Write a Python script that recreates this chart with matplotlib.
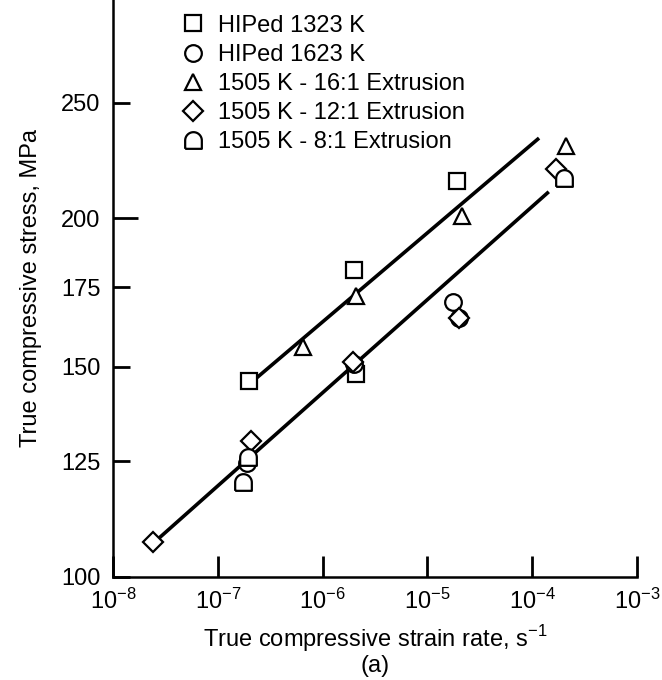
import numpy as np
import matplotlib
matplotlib.use("Agg")
import matplotlib.pyplot as plt
from matplotlib.path import Path

plt.rcParams['font.family'] = ['Liberation Sans', 'DejaVu Sans']
plt.rcParams['mathtext.fontset'] = 'custom'
plt.rcParams['mathtext.rm'] = 'Liberation Sans'

# ---- data ----
labels = ["HIPed 1323 K", "HIPed 1623 K", "1505 K - 16:1 Extrusion",
          "1505 K - 12:1 Extrusion", "1505 K - 8:1 Extrusion"]

sq_x = [2.0e-7, 2.0e-6, 2.1e-6, 1.9e-5]
sq_y = [146, 181, 148, 215]

circ_x = [1.9e-7, 2.0e-6, 1.75e-5, 2.0e-5]
circ_y = [124.5, 151, 170, 165]

tri_x = [6.5e-7, 2.1e-6, 2.15e-5, 2.1e-4]
tri_y = [156, 172, 201, 230]

dia_x = [2.4e-8, 2.05e-7, 1.95e-6, 2.0e-5, 1.7e-4]
dia_y = [107, 130, 151.5, 165, 220]

house_x = [1.75e-7, 1.95e-7, 2.0e-4]
house_y = [120, 126, 216]

fit_upper_x = [2.37e-7, 1.13e-4]
fit_upper_y = [147, 233]
fit_lower_x = [2.6e-8, 1.4e-4]
fit_lower_y = [107.3, 210]

yticks = [100, 125, 150, 175, 200, 250]
xticks = [1e-8, 1e-7, 1e-6, 1e-5, 1e-4, 1e-3]
xticklabels = [r'$\mathregular{10^{-8}}$', r'$\mathregular{10^{-7}}$', r'$\mathregular{10^{-6}}$',
               r'$\mathregular{10^{-5}}$', r'$\mathregular{10^{-4}}$', r'$\mathregular{10^{-3}}$']

# arch-shaped marker (flat bottom, round top)
th = np.linspace(0, np.pi, 30)
verts = [(-1, -1), (1, -1), (1, 0)] + [(np.cos(t), np.sin(t)) for t in th] + [(-1, 0), (-1, -1)]
house_marker = Path(verts)

fig = plt.figure(figsize=(6.62, 6.80), dpi=100)
ax = fig.add_axes([0.171, 0.152, 0.791, 0.848])

ax.plot(fit_upper_x, fit_upper_y, color='black', lw=2.6, zorder=2)
ax.plot(fit_lower_x, fit_lower_y, color='black', lw=2.6, zorder=2)

mk = dict(linestyle='none', mfc='white', mec='black', mew=1.6, zorder=3)
ax.plot(sq_x, sq_y, marker='s', ms=12, label=labels[0], **mk)
ax.plot(circ_x, circ_y, marker='o', ms=12, label=labels[1], **mk)
ax.plot(tri_x, tri_y, marker='^', ms=12, label=labels[2], **mk)
ax.plot(dia_x, dia_y, marker='D', ms=10, label=labels[3], **mk)
ax.plot(house_x, house_y, marker=house_marker, ms=12, label=labels[4], **mk)

ax.set_xscale('log')
ax.set_yscale('log')
ax.set_xlim(1e-8, 1e-3)
ax.set_ylim(100, 305)

ax.set_xticks(xticks)
ax.set_xticklabels(xticklabels)
ax.xaxis.set_minor_locator(matplotlib.ticker.NullLocator())
ax.set_yticks(yticks)
ax.set_yticklabels([str(v) for v in yticks])
ax.yaxis.set_minor_locator(matplotlib.ticker.NullLocator())

ax.tick_params(axis='both', direction='in', labelsize=17, width=2, colors='black')
ax.tick_params(axis='x', length=15, pad=9)
ax.tick_params(axis='y', length=12, pad=9)
# the 200 tick is drawn longer
for t, v in zip(ax.yaxis.get_major_ticks(), yticks):
    if v == 200:
        t.tick1line.set_markersize(18)

for s in ['top', 'right']:
    ax.spines[s].set_visible(False)
for s in ['left', 'bottom']:
    ax.spines[s].set_linewidth(1.8)

ax.set_ylabel('True compressive stress, MPa', fontsize=17, labelpad=14)
ax.set_xlabel('True compressive strain rate, s$^{-1}$\n(a)', fontsize=17, labelpad=6,
              linespacing=1.1)

leg = ax.legend(loc='upper left', bbox_to_anchor=(0.10, 0.995), frameon=False,
                fontsize=17, handletextpad=0.4, labelspacing=0.3, borderpad=0.0,
                handlelength=1.3)

fig.savefig('out.png', dpi=100)
